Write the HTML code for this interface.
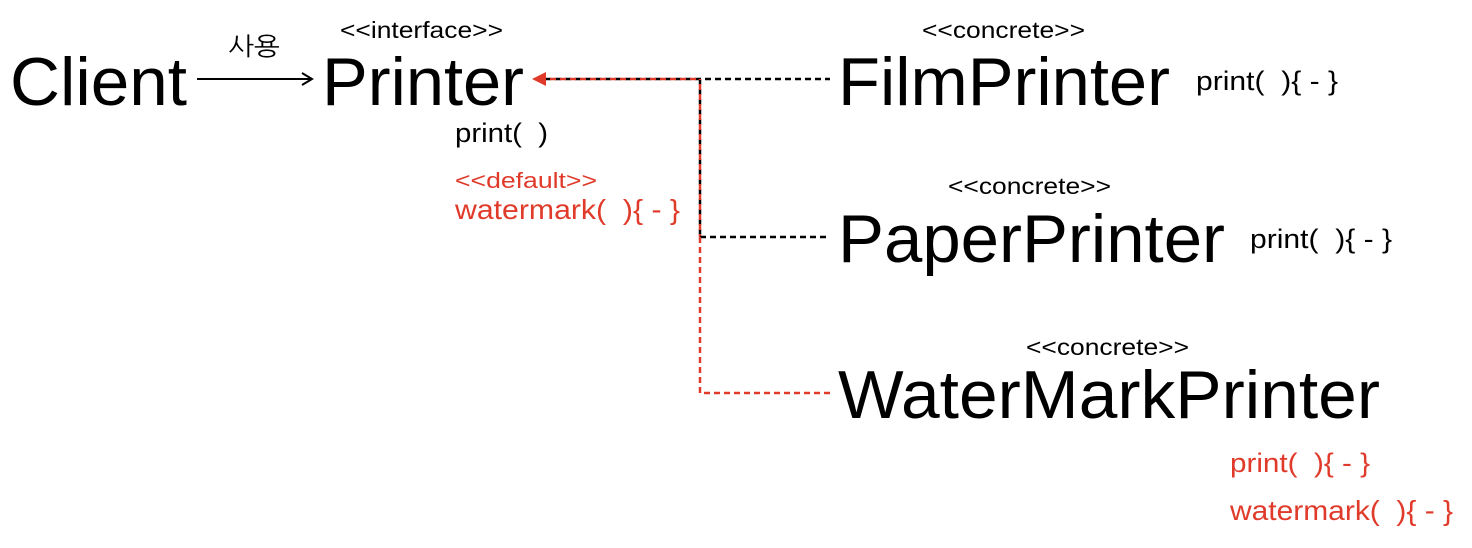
<!DOCTYPE html>
<html><head><meta charset="utf-8"><style>
html,body{margin:0;padding:0;background:#fff;width:1472px;height:548px;overflow:hidden}
svg{display:block}
text{font-family:"Liberation Sans","NanumGothic","Noto Sans CJK KR",sans-serif;white-space:pre}
</style></head><body>
<svg width="1472" height="548" viewBox="0 0 1472 548">
<g>
<line x1="197" y1="79" x2="310" y2="79" stroke="#000" stroke-width="2"/>
<polyline points="302,73 312,79 302,85" fill="none" stroke="#000" stroke-width="2"/>
</g>
<text x="228" y="55" font-size="25" textLength="52" lengthAdjust="spacingAndGlyphs">사용</text>
<text x="10" y="105" font-size="68" textLength="177" lengthAdjust="spacingAndGlyphs">Client</text>
<text x="340" y="38" font-size="23" textLength="163" lengthAdjust="spacingAndGlyphs">&lt;&lt;interface&gt;&gt;</text>
<text x="322" y="105" font-size="68" textLength="202" lengthAdjust="spacingAndGlyphs">Printer</text>
<text x="455" y="142" font-size="27" textLength="93" lengthAdjust="spacingAndGlyphs">print(&#160;&#160;)</text>
<text x="455" y="188" font-size="22" fill="#e03a2a" textLength="142" lengthAdjust="spacingAndGlyphs">&lt;&lt;default&gt;&gt;</text>
<text x="455" y="219" font-size="28" fill="#e03a2a" textLength="225" lengthAdjust="spacingAndGlyphs">watermark(&#160;&#160;){ - }</text>

<g>
<line x1="545" y1="79" x2="830" y2="79" stroke="#000" stroke-width="2.5" stroke-dasharray="6,4"/>
<line x1="545" y1="79" x2="700" y2="79" stroke="#e03a2a" stroke-width="2.5" stroke-dasharray="6,4" stroke-dashoffset="5"/>
<line x1="700" y1="79" x2="700" y2="237" stroke="#000" stroke-width="2.5" stroke-dasharray="6,4"/>
<line x1="700" y1="79" x2="700" y2="237" stroke="#e03a2a" stroke-width="2.5" stroke-dasharray="6,4" stroke-dashoffset="5"/>
<line x1="700" y1="237" x2="830" y2="237" stroke="#000" stroke-width="2.5" stroke-dasharray="6,4"/>
<polyline points="700,237 700,393 830,393" fill="none" stroke="#e03a2a" stroke-width="2.5" stroke-dasharray="6,4"/>
<polygon points="532,79 546,72 546,86" fill="#e03a2a"/>
</g>

<text x="922" y="38" font-size="23" textLength="163" lengthAdjust="spacingAndGlyphs">&lt;&lt;concrete&gt;&gt;</text>
<text x="838" y="105" font-size="68" textLength="332" lengthAdjust="spacingAndGlyphs">FilmPrinter</text>
<text x="1196" y="90" font-size="27" textLength="142" lengthAdjust="spacingAndGlyphs">print(&#160;&#160;){ - }</text>

<text x="948" y="194" font-size="23" textLength="163" lengthAdjust="spacingAndGlyphs">&lt;&lt;concrete&gt;&gt;</text>
<text x="838" y="262" font-size="68" textLength="387" lengthAdjust="spacingAndGlyphs">PaperPrinter</text>
<text x="1250" y="248" font-size="27" textLength="142" lengthAdjust="spacingAndGlyphs">print(&#160;&#160;){ - }</text>

<text x="1026" y="355" font-size="23" textLength="163" lengthAdjust="spacingAndGlyphs">&lt;&lt;concrete&gt;&gt;</text>
<text x="838" y="418" font-size="68" textLength="542" lengthAdjust="spacingAndGlyphs">WaterMarkPrinter</text>
<text x="1230" y="472" font-size="27" fill="#e03a2a" textLength="140" lengthAdjust="spacingAndGlyphs">print(&#160;&#160;){ - }</text>
<text x="1230" y="520" font-size="28" fill="#e03a2a" textLength="223" lengthAdjust="spacingAndGlyphs">watermark(&#160;&#160;){ - }</text>
</svg>
</body></html>
